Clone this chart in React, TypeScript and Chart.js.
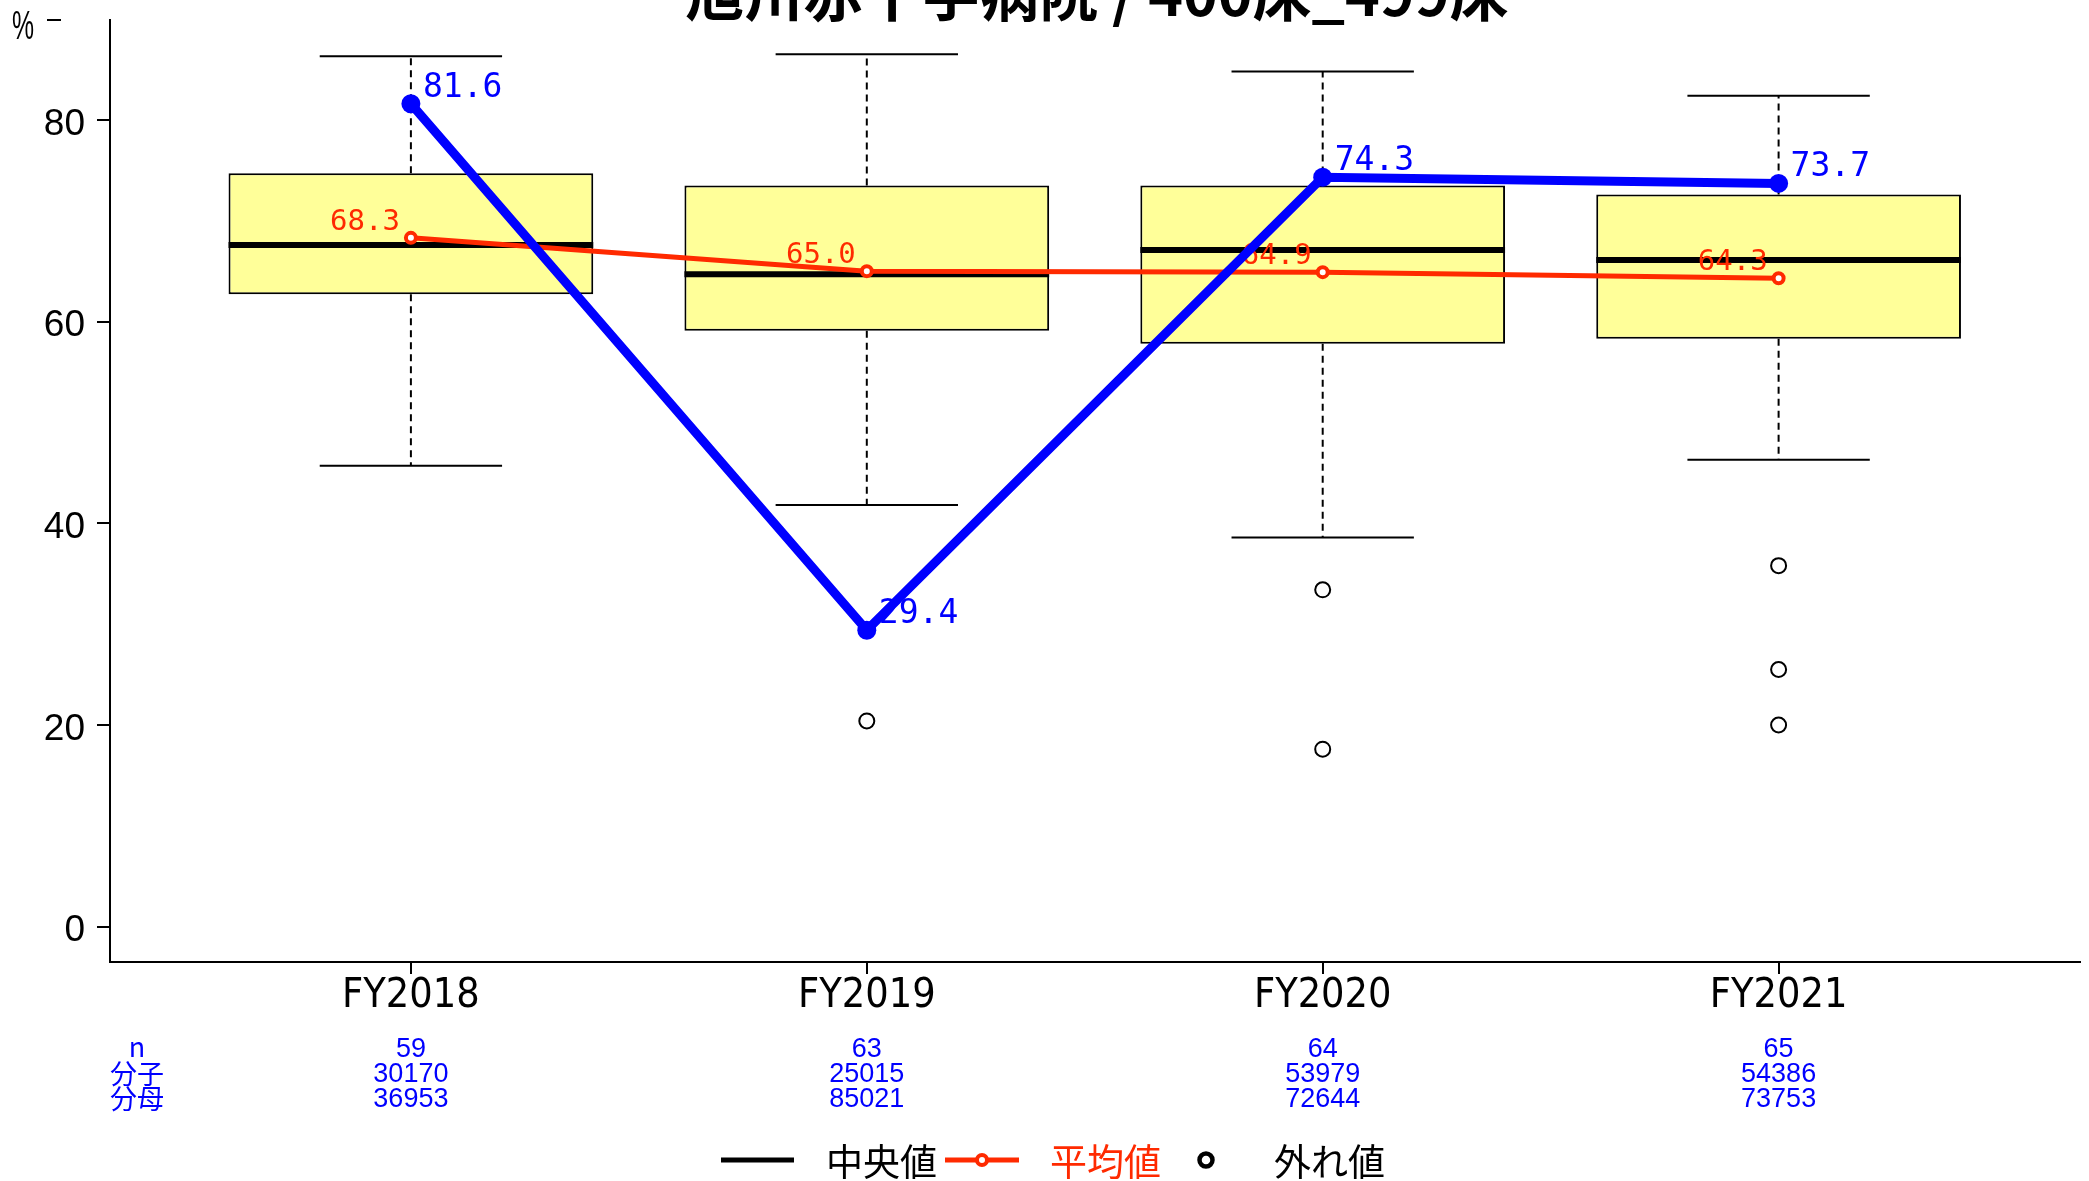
import { useEffect, useRef } from 'react';
import { Chart, registerables } from 'chart.js';

Chart.register(...registerables);

// ---------------- data ----------------
const categories = ['FY2018', 'FY2019', 'FY2020', 'FY2021'];
const whiskerHigh = [86.3, 86.5, 84.8, 82.4];
const q3 = [74.7, 73.5, 73.5, 72.6];
const median = [67.6, 64.7, 67.1, 66.1];
const q1 = [62.7, 59.1, 57.8, 58.3];
const whiskerLow = [45.7, 41.8, 38.6, 46.3];
const outliers: number[][] = [[], [20.4], [33.4, 17.6], [35.8, 25.5, 20.0]];
const meanValues = [68.3, 65.0, 64.9, 64.3];
const hospitalValues = [81.6, 29.4, 74.3, 73.7];
const nCounts = ['59', '63', '64', '65'];
const numerators = ['30170', '25015', '53979', '54386'];
const denominators = ['36953', '85021', '72644', '73753'];
const tableRowLabels = ['n', '分子', '分母'];
const yTicks = [0, 20, 40, 60, 80];
const titleText = '旭川赤十字病院 / 400床_499床';
const legendLabels = ['中央値', '平均値', '外れ値'];

// ---------------- styles ----------------
const MONO = '"DejaVu Sans Mono", "Liberation Mono", monospace';
const SANS = '"Liberation Sans", Arial, sans-serif';
const NARROW = '"Liberation Sans Narrow", "DejaVu Sans Condensed", "Liberation Sans", sans-serif';
const CJK = '"Noto Sans CJK JP", "Noto Sans", sans-serif';
const RED = '#FF2A00';
const BLUE = '#0000FF';
const BOX_FILL = '#FFFF99';
const BOX_HALF = 0.4;
const CAP_HALF = 0.2;

const positions = categories.map((_, i) => i + 1);

const boxData = positions.map((x, i) => ({ x, y: [q1[i], q3[i]] }));
const whiskerData = positions.flatMap((x, i) => [
  { x, y: q3[i] }, { x, y: whiskerHigh[i] }, { x, y: null },
  { x, y: q1[i] }, { x, y: whiskerLow[i] }, { x, y: null },
]);
const capData = positions.flatMap((x, i) => [
  { x: x - CAP_HALF, y: whiskerHigh[i] }, { x: x + CAP_HALF, y: whiskerHigh[i] }, { x, y: null },
  { x: x - CAP_HALF, y: whiskerLow[i] }, { x: x + CAP_HALF, y: whiskerLow[i] }, { x, y: null },
]);
const medianData = positions.flatMap((x, i) => [
  { x: x - BOX_HALF, y: median[i] }, { x: x + BOX_HALF, y: median[i] }, { x, y: null },
]);
const outlierData = positions.flatMap((x, i) => outliers[i].map((y) => ({ x, y })));
const meanData = positions.map((x, i) => ({ x, y: meanValues[i] }));
const hospitalData = positions.map((x, i) => ({ x, y: hospitalValues[i] }));

const textPlugin = {
  id: 'textPlugin',
  afterDatasetDraw(chart: any, args: any) {
    const ds = chart.data.datasets[args.index];
    const ctx = chart.ctx;
    const meta = chart.getDatasetMeta(args.index);
    if (ds.label === 'mean') {
      ctx.save();
      ctx.font = `29px ${MONO}`;
      ctx.fillStyle = RED;
      ctx.textAlign = 'right';
      ctx.textBaseline = 'alphabetic';
      meta.data.forEach((p: any, i: number) => {
        ctx.fillText(meanValues[i].toFixed(1), p.x - 11, p.y - 8);
      });
      ctx.restore();
    }
    if (ds.label === 'hospital') {
      ctx.save();
      ctx.font = `33px ${MONO}`;
      ctx.fillStyle = BLUE;
      ctx.textAlign = 'left';
      ctx.textBaseline = 'alphabetic';
      meta.data.forEach((p: any, i: number) => {
        ctx.fillText(hospitalValues[i].toFixed(1), p.x + 12, p.y - 7);
      });
      ctx.restore();
    }
  },
  afterDraw(chart: any) {
    const ctx = chart.ctx;
    const xs = chart.scales.x;
    ctx.save();
    // title (cut at top)
    ctx.font = `bold 59px ${CJK}`;
    ctx.fillStyle = '#000';
    ctx.textAlign = 'center';
    ctx.textBaseline = 'alphabetic';
    ctx.fillText(titleText, 1097, 16);

    // % unit
    ctx.font = `40px ${SANS}`;
    ctx.textAlign = 'left';
    ctx.save();
    ctx.translate(12, 39);
    ctx.scale(0.62, 1);
    ctx.fillText('%', 0, 0);
    ctx.restore();
    ctx.strokeStyle = '#000';
    ctx.lineWidth = 2;
    ctx.beginPath();
    ctx.moveTo(47, 20);
    ctx.lineTo(61, 20);
    ctx.stroke();

    // table
    const rows = [nCounts, numerators, denominators];
    const baselines = [1057, 1082, 1107];
    ctx.fillStyle = BLUE;
    ctx.textAlign = 'center';
    rows.forEach((row, r) => {
      ctx.font = `27px ${SANS}`;
      row.forEach((txt, i) => {
        ctx.fillText(txt, xs.getPixelForValue(positions[i]), baselines[r]);
      });
      ctx.font = `27px ${CJK}`;
      ctx.fillText(tableRowLabels[r], 137, baselines[r] + (r === 0 ? 0 : 2));
    });

    // legend
    const ly = 1160;
    ctx.lineCap = 'butt';
    ctx.strokeStyle = '#000';
    ctx.lineWidth = 5;
    ctx.beginPath();
    ctx.moveTo(721, ly);
    ctx.lineTo(794, ly);
    ctx.stroke();
    ctx.font = `37px ${CJK}`;
    ctx.textAlign = 'left';
    ctx.textBaseline = 'middle';
    ctx.fillStyle = '#000';
    ctx.fillText(legendLabels[0], 826, ly + 2);

    ctx.strokeStyle = RED;
    ctx.lineWidth = 5;
    ctx.beginPath();
    ctx.moveTo(945, ly);
    ctx.lineTo(1019, ly);
    ctx.stroke();
    ctx.fillStyle = '#fff';
    ctx.lineWidth = 4;
    ctx.beginPath();
    ctx.arc(982, ly, 5, 0, Math.PI * 2);
    ctx.fill();
    ctx.stroke();
    ctx.fillStyle = RED;
    ctx.fillText(legendLabels[1], 1050, ly + 2);

    ctx.strokeStyle = '#000';
    ctx.fillStyle = '#fff';
    ctx.lineWidth = 4.5;
    ctx.beginPath();
    ctx.arc(1206, ly, 6.5, 0, Math.PI * 2);
    ctx.fill();
    ctx.stroke();
    ctx.fillStyle = '#000';
    ctx.fillText(legendLabels[2], 1274, ly + 2);
    ctx.restore();
  },
};

export default function App() {
  const ref = useRef<HTMLCanvasElement | null>(null);
  useEffect(() => {
    if (!ref.current) return;
    const chart = new Chart(ref.current, {
      type: 'bar',
      data: {
        datasets: [
          {
            type: 'line', label: 'hospital', data: hospitalData as any, order: 1,
            borderColor: BLUE, borderWidth: 9, pointRadius: 9.5, pointBorderWidth: 0,
            pointBackgroundColor: BLUE, pointBorderColor: BLUE, tension: 0,
          },
          {
            type: 'line', label: 'mean', data: meanData as any, order: 2,
            borderColor: RED, borderWidth: 5, pointRadius: 5, pointBorderWidth: 4,
            pointBackgroundColor: '#fff', pointBorderColor: RED, tension: 0,
          },
          {
            type: 'line', label: 'outliers', data: outlierData as any, order: 3, showLine: false,
            pointRadius: 7.5, pointBorderWidth: 2, pointBorderColor: '#000', pointBackgroundColor: '#fff',
          },
          {
            type: 'line', label: 'median', data: medianData as any, order: 4, spanGaps: false,
            borderColor: '#000', borderWidth: 6, pointRadius: 0, borderCapStyle: 'butt',
          },
          {
            type: 'line', label: 'caps', data: capData as any, order: 5, spanGaps: false,
            borderColor: '#000', borderWidth: 2, pointRadius: 0,
          },
          {
            type: 'line', label: 'whiskers', data: whiskerData as any, order: 6, spanGaps: false,
            borderColor: '#000', borderWidth: 2, pointRadius: 0, borderDash: [7, 5],
          },
          {
            type: 'bar', label: 'box', data: boxData as any, order: 7,
            backgroundColor: BOX_FILL, borderColor: '#000', borderWidth: 2, borderSkipped: false,
            categoryPercentage: 0.8, barPercentage: 1.0,
          },
        ],
      },
      options: {
        animation: false,
        responsive: false,
        devicePixelRatio: 1,
        layout: { padding: { top: 20, right: 6, left: 0, bottom: 0 } },
        plugins: {
          legend: { display: false },
          tooltip: { enabled: false },
          title: { display: false },
        },
        scales: {
          x: {
            type: 'linear',
            min: 0.34,
            max: 4.66,
            offset: false,
            afterFit: (s: any) => {
              s.height = 219;
              s.paddingLeft = 0;
              s.paddingRight = 0;
              s.paddingTop = 0;
              s.paddingBottom = 0;
            },
            afterBuildTicks: (s: any) => { s.ticks = positions.map((v) => ({ value: v })); },
            ticks: {
              autoSkip: false,
              maxRotation: 0,
              color: '#000',
              padding: 2,
              font: { family: NARROW, size: 41, lineHeight: 1 },
              callback: (_v: any, i: number) => categories[i],
            },
            grid: {
              display: true, offset: false, drawOnChartArea: false, drawTicks: true,
              tickLength: 12, tickColor: '#000', tickWidth: 2, lineWidth: 2, color: '#000',
            },
            border: { display: true, color: '#000', width: 2 },
          },
          y: {
            type: 'linear',
            min: -3.5,
            max: 89.9,
            afterFit: (s: any) => {
              s.width = 110;
              s.paddingTop = 0;
              s.paddingBottom = 0;
              s.paddingLeft = 0;
              s.paddingRight = 0;
            },
            afterBuildTicks: (s: any) => { s.ticks = yTicks.map((v) => ({ value: v })); },
            ticks: {
              color: '#000',
              padding: 12,
              labelOffset: 4.5,
              font: { family: SANS, size: 37 },
            },
            grid: {
              display: true, drawOnChartArea: false, drawTicks: true,
              tickLength: 13, tickColor: '#000', tickWidth: 2, lineWidth: 2, color: '#000',
            },
            border: { display: true, color: '#000', width: 2 },
          },
        },
      } as any,
      plugins: [textPlugin],
    });
    return () => chart.destroy();
  }, []);
  return (
    <div style={{ position: 'absolute', left: 0, top: 0, width: 2089, height: 1181, background: '#fff' }}>
      <canvas ref={ref} width={2089} height={1181} style={{ display: 'block' }} />
    </div>
  );
}
